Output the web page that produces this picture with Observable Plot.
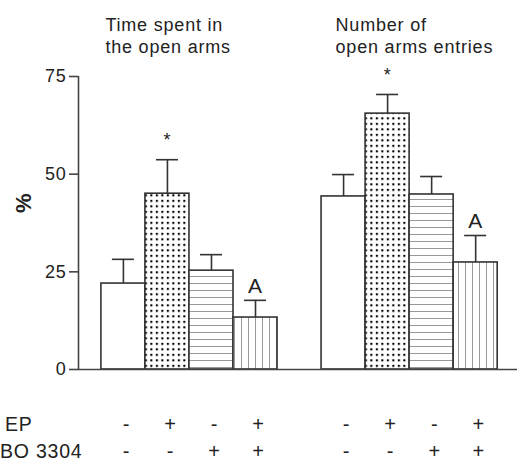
<!DOCTYPE html>
<html><head><meta charset="utf-8">
<script src="https://cdn.jsdelivr.net/npm/d3@7"></script>
<script src="https://cdn.jsdelivr.net/npm/@observablehq/plot@0.6"></script>
<style>
body{margin:0;background:#fff;}
#chart svg{font-family:"Liberation Sans",Arial,sans-serif;letter-spacing:0.8px;}
</style></head><body><div id="chart"></div>
<script>
// ---- data ----
const groupTitles = ["Time spent in\nthe open arms", "Number of\nopen arms entries"];
const timeMeans  = [22.0, 45.0, 25.3, 13.3];
const timeSem    = [6.2, 8.7, 4.1, 4.4];
const entryMeans = [44.3, 65.5, 44.8, 27.4];
const entrySem   = [5.6, 4.9, 4.6, 6.9];
const annotations = ["", "*", "", "A"];
const epSigns = ["-", "+", "-", "+"];
const boSigns = ["-", "-", "+", "+"];
const rowLabels = ["EP", "BO 3304"];
const yTicks = [0, 25, 50, 75];

// ---- table built from the arrays ----
const rows = [];
groupTitles.forEach((title, gi) => {
  const means = gi === 0 ? timeMeans : entryMeans;
  const sems = gi === 0 ? timeSem : entrySem;
  means.forEach((m, i) => {
    const x1 = gi * (means.length + 1) + i;
    rows.push({gi, i, x1, x2: x1 + 1, xc: x1 + 0.5, mean: m, top: m + sems[i],
      note: annotations[i], ep: epSigns[i], bo: boSigns[i], key: epSigns[i] + boSigns[i]});
  });
});
const groupRows = groupTitles.map((t, gi) => ({title: t, x: gi * 5}));
const keys = epSigns.map((e, i) => e + boSigns[i]);
const xDomain = [-0.52, 9.45];
const ink = "#333";

const plot = Plot.plot({
  width: 517, height: 465,
  marginLeft: 78, marginRight: 0, marginTop: 76, marginBottom: 96,
  style: {fontSize: "18px", color: "#222", background: "#fff"},
  x: {domain: xDomain, axis: null},
  y: {domain: [yTicks[0], yTicks[yTicks.length - 1]], axis: null},
  color: {type: "ordinal", domain: keys, range: ["#fff", "url(#dots)", "url(#hlines)", "url(#vlines)"]},
  marks: [
    Plot.rectY(rows, {x1: "x1", x2: "x2", y1: 0, y2: "mean", fill: "key", stroke: ink, strokeWidth: 1.6}),
    Plot.ruleX(rows, {x: "xc", y1: "mean", y2: "top", stroke: ink, strokeWidth: 1.6}),
    Plot.ruleY(rows, {y: "top", x1: d => d.xc - 0.25, x2: d => d.xc + 0.25, stroke: ink, strokeWidth: 1.6}),
    Plot.ruleY([yTicks[0]], {stroke: "#444", strokeWidth: 1.6}),
    Plot.ruleX([xDomain[0]], {y1: yTicks[0], y2: yTicks[yTicks.length - 1], stroke: "#444", strokeWidth: 1.6}),
    Plot.axisY({ticks: yTicks, tickSize: 9, tickPadding: 3, label: null, stroke: "#444", strokeWidth: 1.6, fontSize: 18}),
    Plot.text(rows.filter(d => d.note === "*"), {x: "xc", y: "top", text: "note", dy: -19, fontSize: 18}),
    Plot.text(rows.filter(d => d.note === "A"), {x: "xc", y: "top", text: "note", dy: -14, fontSize: 21}),
    Plot.text([groupRows[0]], {x: "x", text: "title", frameAnchor: "top", textAnchor: "start", lineAnchor: "top", dx: 4, dy: -60, lineHeight: 1.17}),
    Plot.text([groupRows[1]], {x: "x", text: "title", frameAnchor: "top", textAnchor: "start", lineAnchor: "top", dx: 14, dy: -60, lineHeight: 1.17}),
    Plot.text(["%"], {frameAnchor: "left", dx: -55, dy: -10, rotate: -90, fontWeight: "bold", fontSize: 22}),
    Plot.text(rows, {x: "xc", text: "ep", frameAnchor: "bottom", dx: 3, dy: 61, fontSize: 20}),
    Plot.text(rows, {x: "xc", text: "bo", frameAnchor: "bottom", dx: 3, dy: 88, fontSize: 20}),
    Plot.text([rowLabels[0]], {frameAnchor: "bottom-left", textAnchor: "end", dx: -46, dy: 61, fontSize: 19.5}),
    Plot.text([rowLabels[1]], {frameAnchor: "bottom-left", textAnchor: "end", dx: 4, dy: 88, fontSize: 19.5})
  ]
});

const ns = "http://www.w3.org/2000/svg";
const defs = document.createElementNS(ns, "defs");
defs.innerHTML = `
  <pattern id="dots" width="5.5" height="5.5" patternUnits="userSpaceOnUse">
    <rect width="5.5" height="5.5" fill="#fff"/>
    <rect x="1.8" y="1.8" width="2.1" height="2.1" fill="#000"/>
  </pattern>
  <pattern id="hlines" width="8" height="7" patternUnits="userSpaceOnUse">
    <rect width="8" height="7" fill="#fff"/>
    <line x1="0" y1="3.5" x2="8" y2="3.5" stroke="#999" stroke-width="1"/>
  </pattern>
  <pattern id="vlines" width="7" height="8" patternUnits="userSpaceOnUse">
    <rect width="7" height="8" fill="#fff"/>
    <line x1="3.5" y1="0" x2="3.5" y2="8" stroke="#999" stroke-width="1"/>
  </pattern>`;
plot.insertBefore(defs, plot.firstChild);
document.getElementById("chart").appendChild(plot);
</script>
</body></html>
